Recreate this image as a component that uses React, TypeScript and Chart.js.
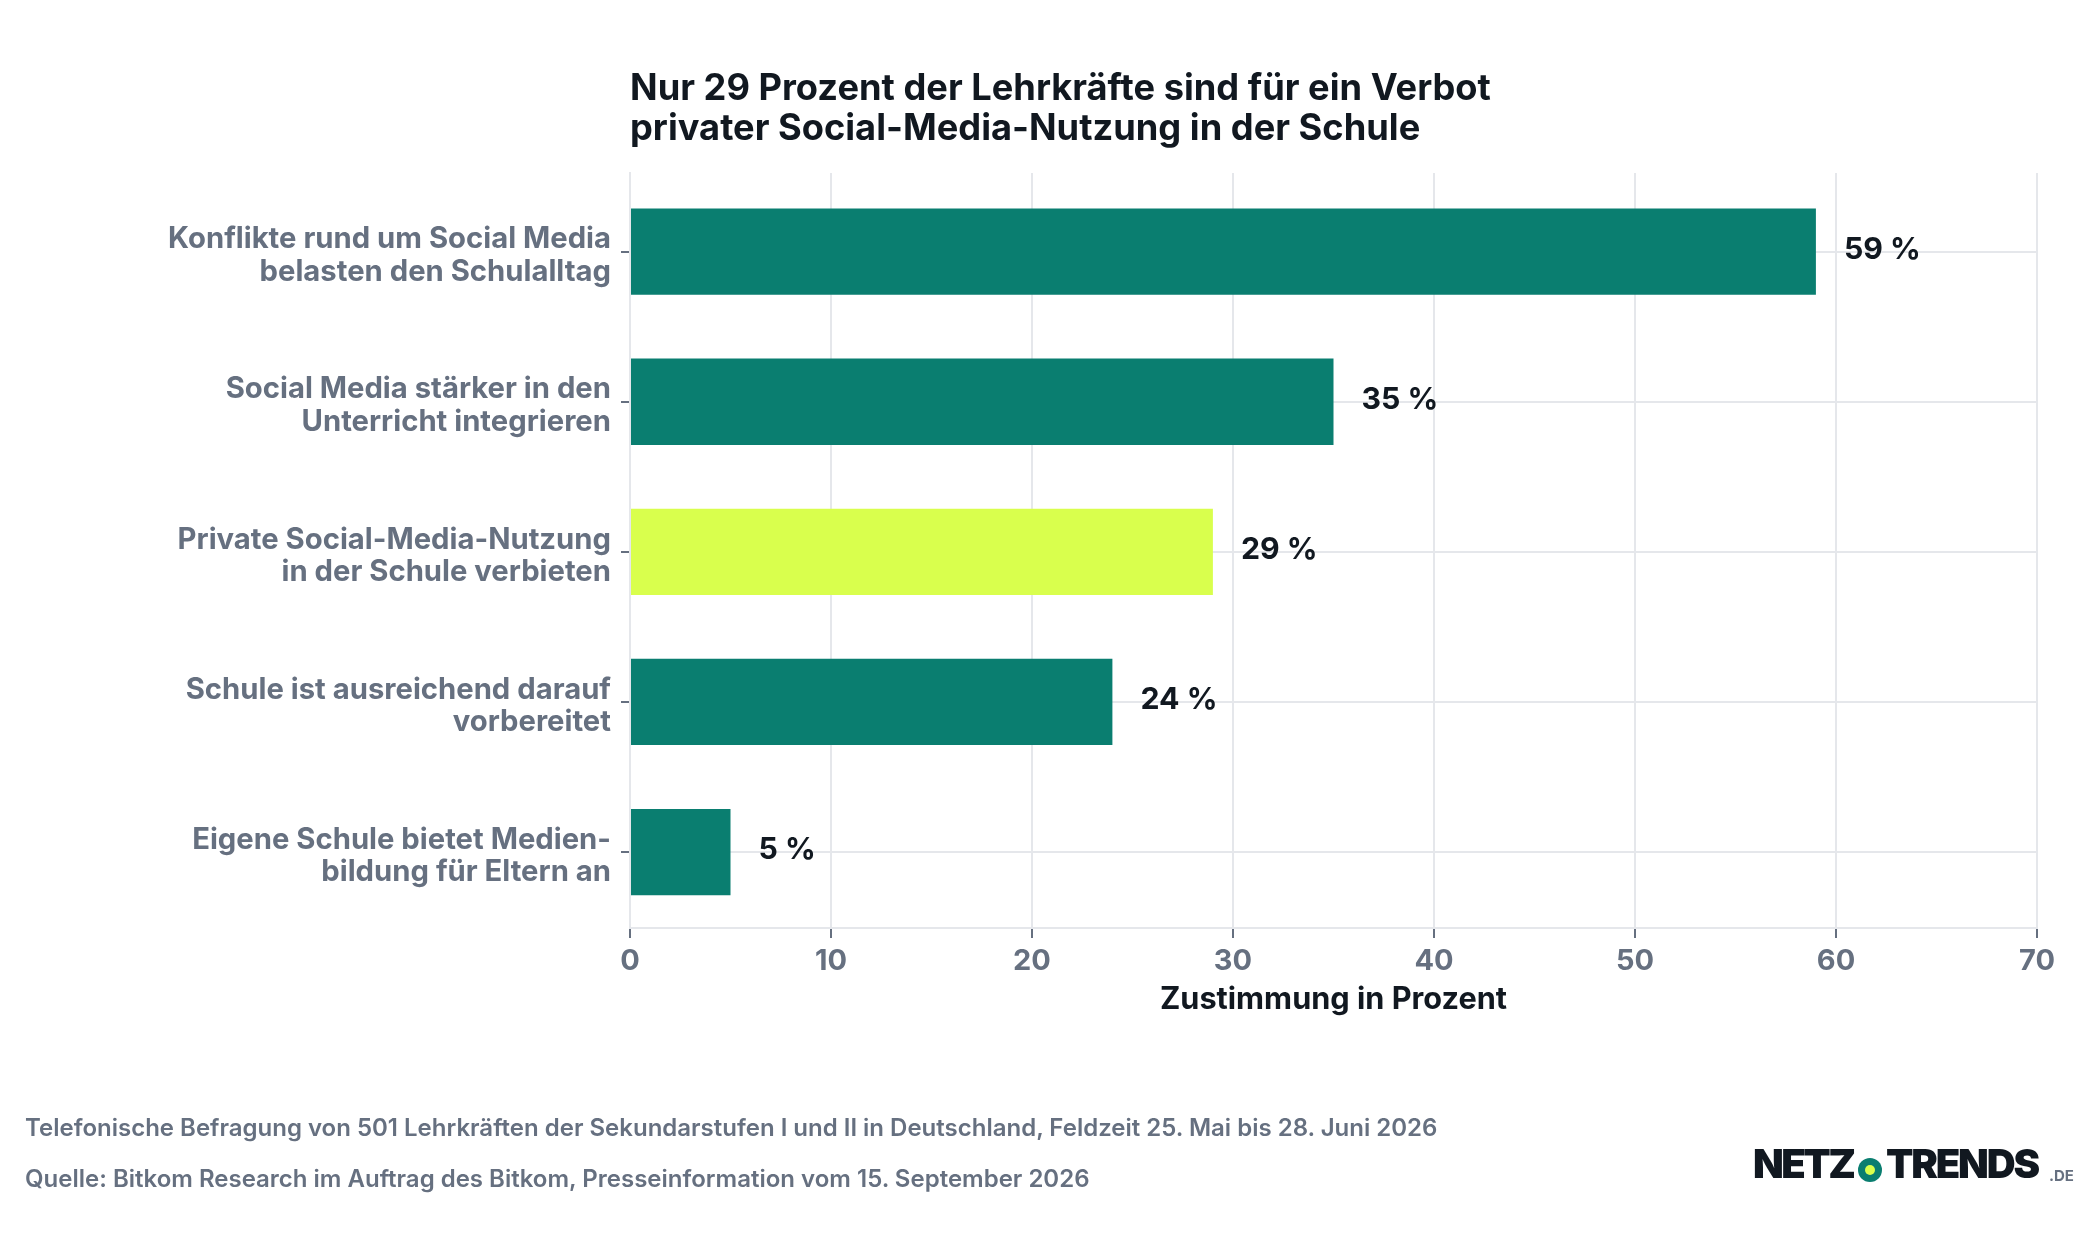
import { useEffect, useRef } from 'react';
import { Chart, registerables } from 'chart.js';
Chart.register(...registerables);

const TITLE_LINES = ['Nur 29 Prozent der Lehrkräfte sind für ein Verbot', 'privater Social-Media-Nutzung in der Schule'];
const CATEGORIES = [
  ['Konflikte rund um Social Media', 'belasten den Schulalltag'],
  ['Social Media stärker in den', 'Unterricht integrieren'],
  ['Private Social-Media-Nutzung', 'in der Schule verbieten'],
  ['Schule ist ausreichend darauf', 'vorbereitet'],
  ['Eigene Schule bietet Medien-', 'bildung für Eltern an'],
];
const VALUES = [59, 35, 29, 24, 5];
const HIGHLIGHT = 2;
const AXIS_TITLE = 'Zustimmung in Prozent';
const NOTE = 'Telefonische Befragung von 501 Lehrkräften der Sekundarstufen I und II in Deutschland, Feldzeit 25. Mai bis 28. Juni 2026';
const SOURCE = 'Quelle: Bitkom Research im Auftrag des Bitkom, Presseinformation vom 15. September 2026';

const GREEN = '#0a7e70';
const LIME = '#d9ff4d';
const DARK = '#111820';
const GREY = '#667080';
const GRID = '#e5e7eb';
const FONT = 'Inter';

// value labels next to the bars
const valueLabels = {
  id: 'valueLabels',
  afterDatasetsDraw(chart: Chart) {
    const { ctx } = chart;
    const x = chart.scales.x;
    const y = chart.scales.y;
    ctx.save();
    ctx.font = `700 30.3px ${FONT}`;
    ctx.fillStyle = DARK;
    ctx.textAlign = 'left';
    ctx.textBaseline = 'middle';
    VALUES.forEach((v, i) => {
      ctx.fillText(`${v} %`, x.getPixelForValue(v) + 28, y.getPixelForValue(i) - 2);
    });
    ctx.restore();
  },
};

export default function App() {
  const canvasRef = useRef<HTMLCanvasElement>(null);

  useEffect(() => {
    if (!canvasRef.current) return;
    const chart = new Chart(canvasRef.current, {
      type: 'bar',
      data: {
        datasets: [{
          data: VALUES.map((v, i) => ({ x: v, y: i })),
          backgroundColor: VALUES.map((_, i) => (i === HIGHLIGHT ? LIME : GREEN)),
          barPercentage: 0.575,
          categoryPercentage: 1,
        }],
      },
      plugins: [valueLabels],
      options: {
        indexAxis: 'y',
        responsive: false,
        animation: false,
        devicePixelRatio: 1,
        layout: { padding: { top: 173, right: 63, bottom: 222, left: 0 } },
        plugins: { legend: { display: false }, tooltip: { enabled: false } },
        scales: {
          x: {
            type: 'linear',
            min: 0,
            max: 70,
            afterFit: (s: any) => { s.height = 90; },
            ticks: { stepSize: 10, padding: 6, color: GREY, font: { family: FONT, size: 29, weight: 700 } },
            grid: { color: GRID, lineWidth: 2, tickColor: GREY, tickLength: 10, tickWidth: 2 },
            border: { color: GRID, width: 2 },
            title: { display: true, text: AXIS_TITLE, color: DARK, padding: { top: 4, bottom: 0 }, font: { family: FONT, size: 30.7, weight: 700 } },
          },
          // linear so the bands can sit a little off the plot edges, like the original
          y: {
            type: 'linear',
            reverse: true,
            offset: false,
            min: -0.524,
            max: 4.506,
            afterFit: (s: any) => { s.width = 630; },
            ticks: {
              stepSize: 1,
              includeBounds: false,
              autoSkip: false,
              padding: 10,
              labelOffset: 4,
              color: GREY,
              font: { family: FONT, size: 29.25, weight: 700, lineHeight: 1.1 },
              callback: (v: any) => CATEGORIES[v],
            },
            grid: { offset: false, color: GRID, lineWidth: 2, tickColor: GREY, tickLength: 9, tickWidth: 2 },
            border: { color: GRID, width: 2 },
          },
        },
      },
    });
    return () => chart.destroy();
  }, []);

  const abs = (left: number, top: number): React.CSSProperties => ({ position: 'absolute', left, top, whiteSpace: 'nowrap', lineHeight: 1 });

  return (
    <div style={{ position: 'absolute', left: 0, top: 0, width: 2100, height: 1240, background: '#fff', fontFamily: FONT, overflow: 'hidden' }}>
      <canvas ref={canvasRef} width={2100} height={1240} style={{ position: 'absolute', left: 0, top: 0 }} />
      {TITLE_LINES.map((t, i) => (
        <div key={t} style={{ ...abs(630, 69 + i * 40), fontSize: 36.25, fontWeight: 700, color: DARK }}>{t}</div>
      ))}
      <div style={{ ...abs(25, 1116), fontSize: 24, fontWeight: 600, color: GREY }}>{NOTE}</div>
      <div style={{ ...abs(25, 1167), fontSize: 24, fontWeight: 600, color: GREY }}>{SOURCE}</div>
      {/* logo */}
      <div style={{ ...abs(1753, 1144), fontSize: 40, fontWeight: 900, color: DARK, letterSpacing: -2.5 }}>NETZ</div>
      <div style={{ position: 'absolute', left: 1858, top: 1158, width: 24, height: 24, borderRadius: 12, background: GREEN }}>
        <div style={{ position: 'absolute', left: 7, top: 7, width: 10, height: 10, borderRadius: 5, background: LIME }} />
      </div>
      <div style={{ ...abs(1886, 1144), fontSize: 40, fontWeight: 900, color: DARK, letterSpacing: -2.2 }}>TRENDS</div>
      <div style={{ ...abs(2049, 1168), fontSize: 15, fontWeight: 700, color: GREY }}>.DE</div>
    </div>
  );
}
